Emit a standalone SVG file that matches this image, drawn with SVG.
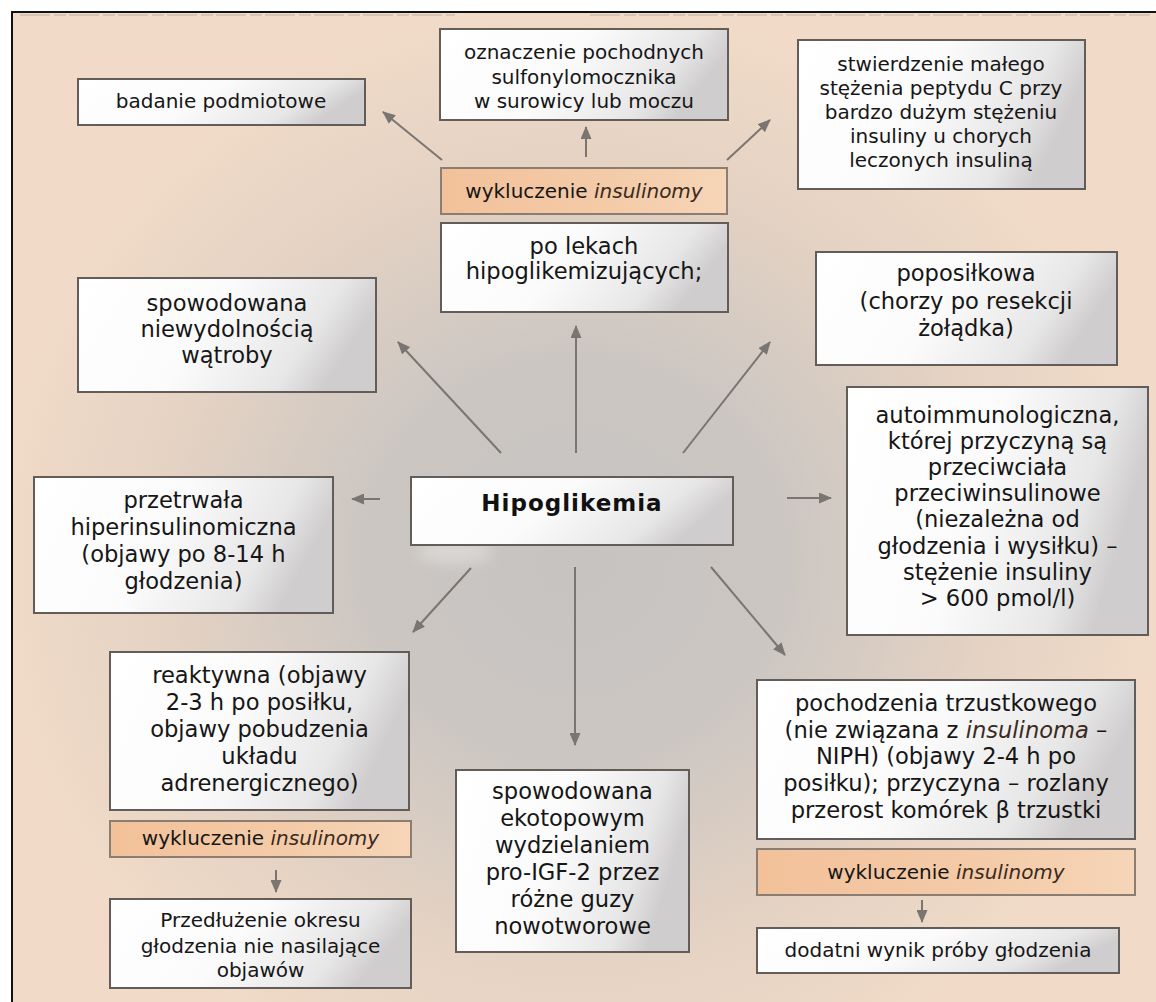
<svg xmlns="http://www.w3.org/2000/svg" width="1156" height="1002" viewBox="0 0 1156 1002">
<defs>
<radialGradient id="bg" gradientUnits="userSpaceOnUse" cx="575" cy="560" r="560" gradientTransform="translate(575 560) scale(1.05 1) translate(-575 -560)">
<stop offset="0" stop-color="#c6c3c1"/>
<stop offset="0.35" stop-color="#cbc6c2"/>
<stop offset="0.7" stop-color="#e4d2c3"/>
<stop offset="1" stop-color="#f1dbc8"/>
</radialGradient>
<linearGradient id="boxg" x1="0" y1="0" x2="1" y2="0.25">
<stop offset="0" stop-color="#ffffff"/>
<stop offset="0.5" stop-color="#fbfbfb"/>
<stop offset="0.85" stop-color="#e8e7e7"/>
<stop offset="1" stop-color="#cfcdcd"/>
</linearGradient>
<linearGradient id="orag" x1="0" y1="0" x2="1" y2="0">
<stop offset="0" stop-color="#f2c19a"/>
<stop offset="0.6" stop-color="#f4cba8"/>
<stop offset="1" stop-color="#f6d5b8"/>
</linearGradient>
<filter id="blur" x="-50%" y="-50%" width="200%" height="200%">
<feGaussianBlur stdDeviation="7"/>
</filter>
<marker id="ah" markerUnits="userSpaceOnUse" markerWidth="13" markerHeight="11" refX="12" refY="5.5" orient="auto">
<path d="M0,0 L13,5.5 L0,11 z" fill="#7b7571"/>
</marker>
<style>
.box{fill:url(#boxg);stroke:#635d59;stroke-width:2}
.ora{fill:url(#orag);stroke:#8c7d73;stroke-width:2}
.t{font-family:Verdana,"DejaVu Sans",sans-serif;font-size:22.6px;fill:#161616;text-anchor:middle}
.s{font-size:20px}
.h{font-weight:bold;font-size:23px;letter-spacing:1px;fill:#111}
.i{font-style:italic;fill:#3a2a20}
.c line{stroke:#7b7571;stroke-width:2;marker-end:url(#ah)}
</style>
</defs>
<rect x="0" y="0" width="1156" height="1002" fill="#ffffff"/>
<rect x="12" y="12" width="1144" height="990" fill="url(#bg)"/>
<ellipse cx="455" cy="552" rx="38" ry="12" fill="#ffffff" opacity="0.3" filter="url(#blur)"/>
<line x1="20" y1="15" x2="455" y2="15" stroke="#bcb1a7" stroke-width="1" stroke-dasharray="30 4 12 3"/>
<line x1="590" y1="15" x2="1150" y2="15" stroke="#bcb1a7" stroke-width="1" stroke-dasharray="30 4 12 3"/>
<path d="M12,1002 L12,12 L1156,12" fill="none" stroke="#111" stroke-width="2"/>

<g class="c">
<line x1="442" y1="160" x2="383" y2="112"/>
<line x1="586" y1="157" x2="586" y2="127"/>
<line x1="727" y1="160" x2="770" y2="120"/>
<line x1="576" y1="453" x2="576" y2="326"/>
<line x1="501" y1="453" x2="398" y2="342"/>
<line x1="683" y1="453" x2="770" y2="342"/>
<line x1="380" y1="499" x2="352" y2="499"/>
<line x1="787" y1="498" x2="831" y2="498"/>
<line x1="471" y1="568" x2="413" y2="632"/>
<line x1="575" y1="567" x2="575" y2="745"/>
<line x1="711" y1="567" x2="785" y2="655"/>
<line x1="276" y1="870" x2="276" y2="892"/>
<line x1="922" y1="900" x2="922" y2="922"/>
</g>

<g id="badanie">
<rect class="box" x="78" y="79" width="287" height="46"/>
<text class="t s" x="221" y="108">badanie podmiotowe</text>
</g>
<g id="oznaczenie">
<rect class="box" x="440" y="29" width="288" height="91"/>
<text class="t s" x="584" y="59">oznaczenie pochodnych</text>
<text class="t s" x="584" y="83.5">sulfonylomocznika</text>
<text class="t s" x="584" y="108">w surowicy lub moczu</text>
</g>
<g id="stwierdzenie">
<rect class="box" x="798" y="40" width="287" height="149"/>
<text class="t s" x="941" y="71">stwierdzenie małego</text>
<text class="t s" x="941" y="95">stężenia peptydu C przy</text>
<text class="t s" x="941" y="119">bardzo dużym stężeniu</text>
<text class="t s" x="941" y="143">insuliny u chorych</text>
<text class="t s" x="941" y="167">leczonych insuliną</text>
</g>
<g id="wykluczenie-top">
<rect class="ora" x="441" y="168" width="286" height="46"/>
<text class="t s" x="584" y="198">wykluczenie <tspan class="i">insulinomy</tspan></text>
</g>
<g id="po-lekach">
<rect class="box" x="441" y="223" width="287" height="89"/>
<text class="t" x="584" y="254">po lekach</text>
<text class="t" x="584" y="279">hipoglikemizujących;</text>
</g>
<g id="watroba">
<rect class="box" x="78" y="278" width="298" height="114"/>
<text class="t" x="227" y="311">spowodowana</text>
<text class="t" x="227" y="337">niewydolnością</text>
<text class="t" x="227" y="363">wątroby</text>
</g>
<g id="poposilkowa">
<rect class="box" x="816" y="252" width="301" height="113"/>
<text class="t" x="966" y="281">poposiłkowa</text>
<text class="t" x="966" y="308.5">(chorzy po resekcji</text>
<text class="t" x="966" y="336">żołądka)</text>
</g>
<g id="autoimmunologiczna">
<rect class="box" x="847" y="387" width="301" height="248"/>
<text class="t" x="997.5" y="423">autoimmunologiczna,</text>
<text class="t" x="997.5" y="449">której przyczyną są</text>
<text class="t" x="997.5" y="475">przeciwciała</text>
<text class="t" x="997.5" y="501">przeciwinsulinowe</text>
<text class="t" x="997.5" y="527">(niezależna od</text>
<text class="t" x="997.5" y="554">głodzenia i wysiłku) –</text>
<text class="t" x="997.5" y="580">stężenie insuliny</text>
<text class="t" x="997.5" y="606">&gt; 600 pmol/l)</text>
</g>
<g id="hipoglikemia">
<rect class="box" x="411" y="477" width="322" height="68"/>
<text class="t h" x="572" y="511">Hipoglikemia</text>
</g>
<g id="przetrwala">
<rect class="box" x="34" y="477" width="299" height="136"/>
<text class="t" x="183.5" y="508">przetrwała</text>
<text class="t" x="183.5" y="535">hiperinsulinomiczna</text>
<text class="t" x="183.5" y="562">(objawy po 8-14 h</text>
<text class="t" x="183.5" y="589">głodzenia)</text>
</g>
<g id="reaktywna">
<rect class="box" x="110" y="652" width="299" height="158"/>
<text class="t" x="259.5" y="683">reaktywna (objawy</text>
<text class="t" x="259.5" y="710">2-3 h po posiłku,</text>
<text class="t" x="259.5" y="737">objawy pobudzenia</text>
<text class="t" x="259.5" y="764">układu</text>
<text class="t" x="259.5" y="791">adrenergicznego)</text>
</g>
<g id="wykluczenie-left">
<rect class="ora" x="110" y="821" width="301" height="36"/>
<text class="t s" x="260.5" y="845">wykluczenie <tspan class="i">insulinomy</tspan></text>
</g>
<g id="przedluzenie">
<rect class="box" x="110" y="899" width="301" height="89"/>
<text class="t s" x="260.5" y="927">Przedłużenie okresu</text>
<text class="t s" x="260.5" y="953">głodzenia nie nasilające</text>
<text class="t s" x="260.5" y="977">objawów</text>
</g>
<g id="ekotopowym">
<rect class="box" x="456" y="770" width="233" height="182"/>
<text class="t" x="572.5" y="799">spowodowana</text>
<text class="t" x="572.5" y="826">ekotopowym</text>
<text class="t" x="572.5" y="853">wydzielaniem</text>
<text class="t" x="572.5" y="880">pro-IGF-2 przez</text>
<text class="t" x="572.5" y="907">różne guzy</text>
<text class="t" x="572.5" y="934">nowotworowe</text>
</g>
<g id="trzustkowego">
<rect class="box" x="757" y="680" width="378" height="159"/>
<text class="t" x="946" y="711">pochodzenia trzustkowego</text>
<text class="t" x="946" y="738">(nie związana z <tspan class="i">insulinoma</tspan> –</text>
<text class="t" x="946" y="764">NIPH) (objawy 2-4 h po</text>
<text class="t" x="946" y="791">posiłku); przyczyna – rozlany</text>
<text class="t" x="946" y="818">przerost komórek β trzustki</text>
</g>
<g id="wykluczenie-right">
<rect class="ora" x="757" y="849" width="378" height="46"/>
<text class="t s" x="946" y="879">wykluczenie <tspan class="i">insulinomy</tspan></text>
</g>
<g id="dodatni">
<rect class="box" x="757" y="928" width="362" height="45"/>
<text class="t s" x="938" y="957">dodatni wynik próby głodzenia</text>
</g>
</svg>
